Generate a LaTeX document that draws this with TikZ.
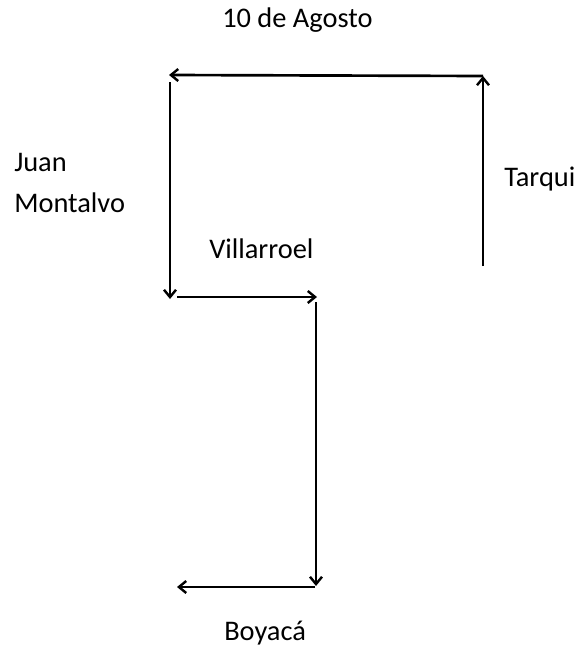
\documentclass[tikz,border=0pt]{standalone}
\usepackage{fontspec}
\setmainfont{Carlito}
\usetikzlibrary{positioning, arrows.meta}

\begin{document}
\begin{tikzpicture}[x = 0.75pt, y = -0.75pt,
    street/.style = {line width = 2pt, -{Straight Barb[length = 5.5pt, width = 9pt, line width = 1.8pt]}},
    label/.style = {font = \fontsize{21.3}{25}\selectfont, anchor = base west, inner sep = 0pt}]
            \useasboundingbox (0,0) rectangle (582,653);
            % corners of the route
            \coordinate (TQs) at (483,266);
            \coordinate (TQn) at (483,76);
            \coordinate (AGw) at (169,75);
            \coordinate (JMn) at (170,82);
            \coordinate (JMs) at (170,299);
            \coordinate (VIw) at (177,297);
            \coordinate (VIe) at (317,297);
            \coordinate (BYn) at (316,302);
            \coordinate (BYs) at (316,586);
            \coordinate (BYe) at (315,587);
            \coordinate (BYw) at (177,587);
            % street names
            \node (agosto) [label] at (222,27) {10 de Agosto};
            \node (juan) [label] at (14,171) {Juan};
            \node (montalvo) [label] at (14,212) {Montalvo};
            \node (tarqui) [label] at (504,186) {Tarqui};
            \node (villarroel) [label] at (209,258) {Villarroel};
            \node (boyaca) [label] at (224,640) {Boyacá};
            \draw [street] (TQs) -- (TQn);
            \draw [street] (TQn) -- (AGw);
            \draw [street] (JMn) -- (JMs);
            \draw [street] (VIw) -- (VIe);
            \draw [street] (BYn) -- (BYs);
            \draw [street] (BYe) -- (BYw);
        \end{tikzpicture}
\end{document}
